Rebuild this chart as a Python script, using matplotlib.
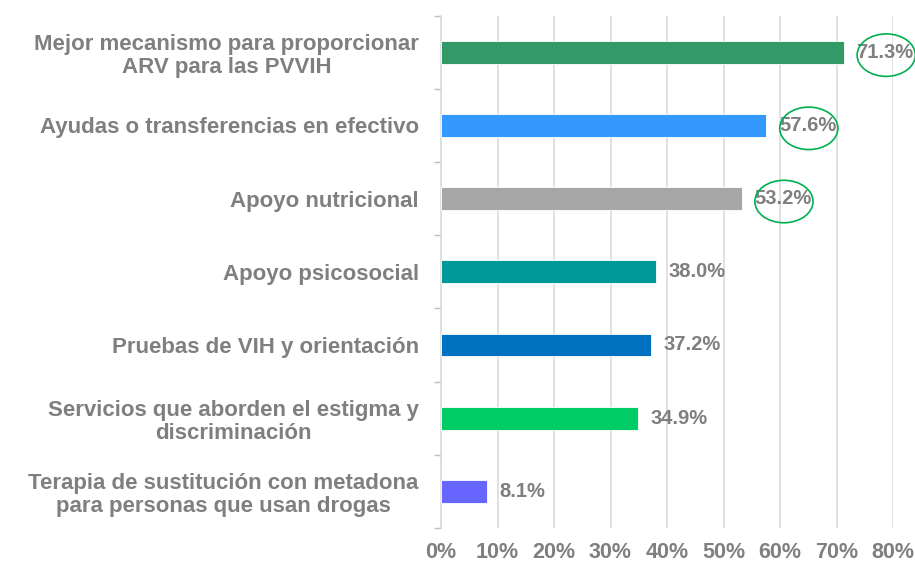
import matplotlib
matplotlib.use("Agg")
import matplotlib.pyplot as plt
from matplotlib.patches import Ellipse
from matplotlib.ticker import FuncFormatter, MultipleLocator, FixedLocator

categories = [
    "Mejor mecanismo para proporcionar\nARV para las PVVIH",
    "Ayudas o transferencias en efectivo",
    "Apoyo nutricional",
    "Apoyo psicosocial",
    "Pruebas de VIH y orientación",
    "Servicios que aborden el estigma y\ndiscriminación",
    "Terapia de sustitución con metadona\npara personas que usan drogas",
]
values = [0.713, 0.576, 0.532, 0.380, 0.372, 0.349, 0.081]
colors = ["#339966", "#3399FF", "#A6A6A6", "#009999", "#0070C0", "#00CC66", "#6666FF"]
highlighted = [0, 1, 2]

plt.rcParams['font.family'] = ['Liberation Sans', 'DejaVu Sans']
TXT = "#7F7F7F"

fig = plt.figure(figsize=(9.15, 5.65), dpi=100)
ax = fig.add_axes([441/915, 1 - 528/565, (893-441)/915, (528-15.6)/565])

ypos = list(range(len(categories)))
ax.barh(ypos, values, height=0.31, color=colors, edgecolor="white", linewidth=0.6, zorder=3)

ax.set_xlim(0, 0.8)
ax.set_ylim(len(categories) - 0.5, -0.5)
ax.xaxis.set_major_locator(MultipleLocator(0.1))
ax.xaxis.set_major_formatter(FuncFormatter(lambda v, p: f"{v*100:.0f}%"))
ax.grid(axis="x", color="#D9D9D9", linewidth=1.1, zorder=0)
ax.set_axisbelow(True)

ax.set_yticks(ypos)
ax.set_yticklabels(categories)
for lab in ax.get_yticklabels():
    lab.set_multialignment("center")
    lab.set_fontweight("bold")
    lab.set_fontsize(16)
    lab.set_color(TXT)
    lab.set_linespacing(1.15)
ax.tick_params(axis="y", which="major", length=0, pad=16)
ax.yaxis.set_minor_locator(FixedLocator([i + 0.5 for i in range(-1, len(categories))]))
ax.tick_params(axis="y", which="minor", length=5, color="#BFBFBF", width=1)

ax.tick_params(axis="x", length=0, pad=10, labelsize=15.5, labelcolor=TXT)
for lab in ax.get_xticklabels():
    lab.set_fontweight("bold")

for s in ["top", "right", "bottom"]:
    ax.spines[s].set_visible(False)
ax.spines["left"].set_color("#D9D9D9")
ax.spines["left"].set_linewidth(1.1)

for i, v in enumerate(values):
    ax.annotate(f"{v*100:.1f}%", xy=(v, i), xytext=(9, 0), textcoords="offset points",
                va="center", ha="left", fontsize=14.5, fontweight="bold", color=TXT,
                annotation_clip=False, zorder=4)

for i in highlighted:
    e = Ellipse((values[i] + 0.075, i + 0.04), width=0.103, height=0.58,
                fill=False, edgecolor="#00B050", linewidth=1.2, clip_on=False, zorder=5)
    ax.add_patch(e)

fig.savefig("out.png", dpi=100)
